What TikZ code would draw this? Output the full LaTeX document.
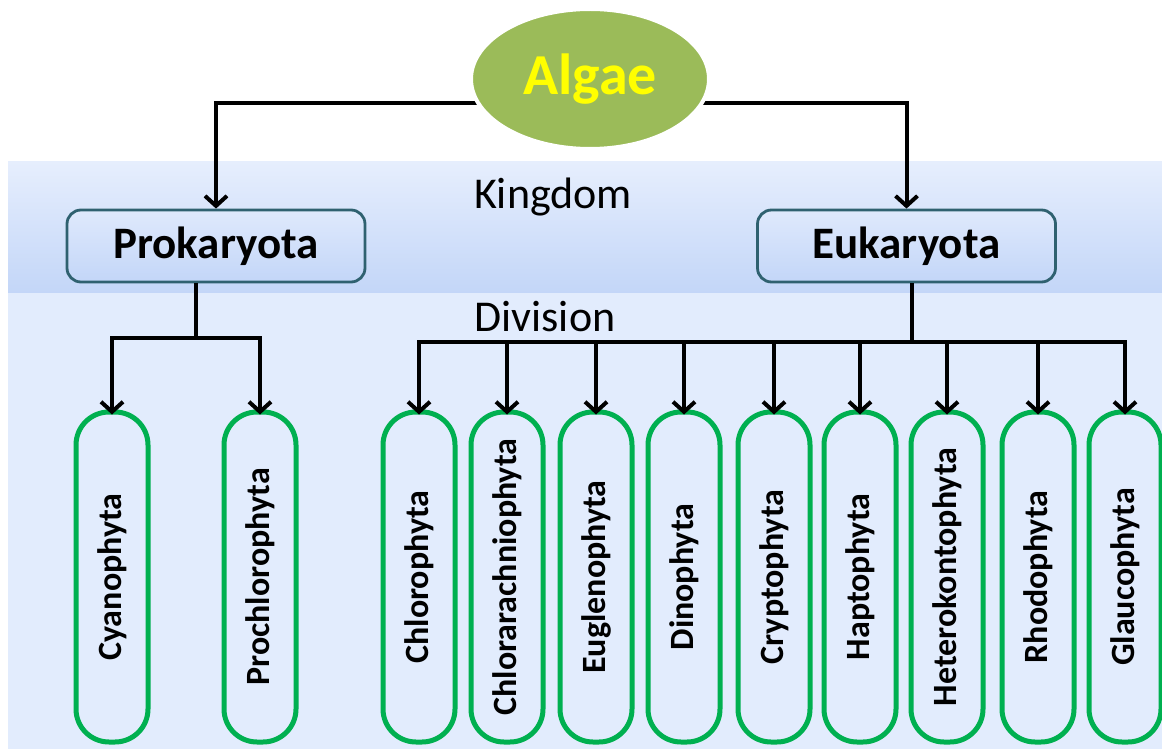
\documentclass[tikz,border=0pt]{standalone}
\usepackage{fontspec}
\setmainfont{Carlito}
\usetikzlibrary{arrows.meta,shapes.geometric}
\pgfdeclarelayer{bg}
\pgfdeclarelayer{mid}
\pgfsetlayers{bg,mid,main}
\definecolor{bandtop}{HTML}{E6EEFD}
\definecolor{bandbot}{HTML}{C3D6F8}
\definecolor{lowband}{HTML}{E2ECFD}
\definecolor{kbord}{HTML}{2F6170}
\definecolor{gbord}{HTML}{00B050}
\definecolor{algfill}{HTML}{9BBB59}
\definecolor{algtext}{HTML}{FFFF00}
\tikzset{
  arr/.style={line width=4pt,-{Straight Barb[length=10pt,width=22pt,line width=4pt]}},
  conn/.style={line width=4pt},
  kbox/.style={draw=kbord,line width=2.8pt,rounded corners=14pt,top color=bandtop!80!bandbot,bottom color=bandbot,
    minimum width=298pt,minimum height=72pt,font=\fontsize{45}{50}\selectfont\bfseries,inner sep=0pt},
  dbox/.style={draw=gbord,line width=5pt,rounded corners=33pt,fill=lowband,
    minimum width=72pt,minimum height=330pt,font=\fontsize{34}{40}\selectfont\bfseries,inner sep=0pt},
  lbl/.style={font=\fontsize{44}{50}\selectfont,inner sep=0pt}
}
\begin{document}
\begin{tikzpicture}[x=1pt,y=-1pt]
\useasboundingbox (0,0) rectangle (1162,749);
\begin{pgfonlayer}{bg}
  \fill[top color=bandtop,bottom color=bandbot] (8,162) rectangle (1162,293);
  \fill[lowband] (8,293) rectangle (1162,749);
\end{pgfonlayer}
\node[ellipse,draw=white,line width=4pt,fill=algfill,minimum width=238pt,minimum height=140pt,
  text=algtext,font=\fontsize{58}{64}\selectfont\bfseries] (alg) at (590,79) {\raisebox{-4pt}{Algae}};
\node[lbl] (king) at (553,197) {Kingdom};
\node[lbl] (divi) at (545,317) {Division};
\node[kbox] (pro) at (216,246) {Prokaryota};
\node[kbox] (euk) at (906.5,246) {Eukaryota};
\coordinate (top) at (590,103);
\begin{pgfonlayer}{mid}
  \draw[arr] (top) -| (pro.north);
  \draw[arr] (top) -| (euk.north);
\end{pgfonlayer}
% division boxes
\node[dbox] (cy) at (112,577) {\rotatebox{90}{Cyanophyta}};
\node[dbox] (pc) at (260,577) {\rotatebox{90}{Prochlorophyta}};
\node[dbox] (ch) at (419,577) {\rotatebox{90}{Chlorophyta}};
\node[dbox] (cr) at (507,577) {\rotatebox{90}{Chlorarachniophyta}};
\node[dbox] (eu) at (596,577) {\rotatebox{90}{Euglenophyta}};
\node[dbox] (di) at (684,577) {\rotatebox{90}{Dinophyta}};
\node[dbox] (cp) at (774,577) {\rotatebox{90}{Cryptophyta}};
\node[dbox] (ha) at (860,577) {\rotatebox{90}{Haptophyta}};
\node[dbox] (he) at (947,577) {\rotatebox{90}{Heterokontophyta}};
\node[dbox] (rh) at (1038,577) {\rotatebox{90}{Rhodophyta}};
\node[dbox] (gl) at (1125,577) {\rotatebox{90}{Glaucophyta}};
% connectors
\coordinate (pbus) at (196,338);
\coordinate (ebus) at (912,342);
\draw[conn] (pro.south -| pbus) -- (pbus);
\draw[conn] (euk.south -| ebus) -- (ebus);
\foreach \n in {cy,pc} \draw[arr] (pbus) -| ([yshift=-5pt]\n.north);
\foreach \n in {ch,cr,eu,di,cp,ha,he,rh,gl} \draw[arr] (ebus) -| ([yshift=-5pt]\n.north);
\end{tikzpicture}
\end{document}
